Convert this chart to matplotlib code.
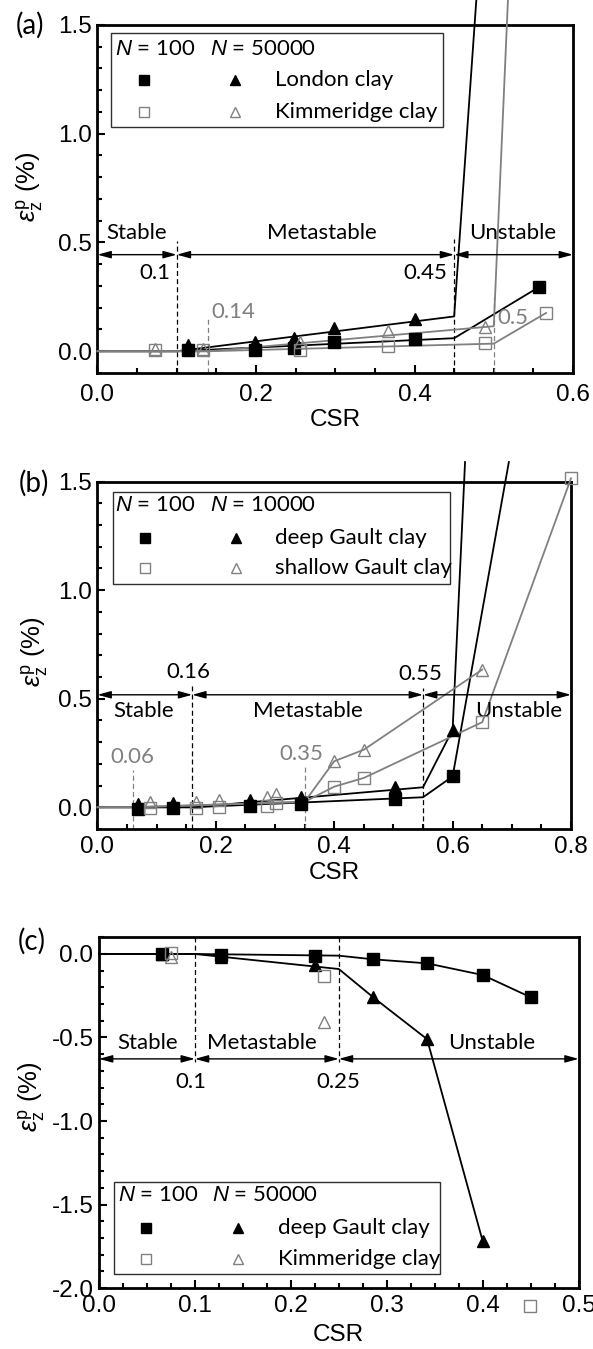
import numpy as np
import matplotlib.pyplot as plt
from matplotlib.ticker import MultipleLocator
from matplotlib.patches import Rectangle

plt.rcParams['mathtext.fontset'] = 'custom'
plt.rcParams['mathtext.it'] = 'Liberation Sans:italic'
plt.rcParams['mathtext.rm'] = 'Liberation Sans'
plt.rcParams['axes.unicode_minus'] = False

NUM = 'Liberation Sans'
TXT = 'Lato'
GRAY = '#808080'
FS = 17.5     # tick labels / CSR
TS = 16       # annotation and key text

# ---------------- (a) London / Kimmeridge clay ----------------
a_bsq_x = [0.114, 0.199, 0.248, 0.298, 0.40, 0.557]
a_bsq_y = [0.005, 0.005, 0.015, 0.043, 0.054, 0.295]
a_btr_x = [0.114, 0.199, 0.248, 0.298, 0.40]
a_btr_y = [0.028, 0.041, 0.061, 0.107, 0.148]
a_gsq_x = [0.073, 0.133, 0.256, 0.366, 0.489, 0.566]
a_gsq_y = [0.005, 0.005, 0.008, 0.023, 0.038, 0.176]
a_gtr_x = [0.073, 0.133, 0.256, 0.366, 0.489]
a_gtr_y = [0.011, 0.011, 0.041, 0.092, 0.110]
# model lines
a_btr_lx = [0, 0.10, 0.45, 0.4806]
a_btr_ly = [0, 0, 0.16, 1.75]
a_bsq_lx = [0, 0.10, 0.45, 0.557]
a_bsq_ly = [0, 0, 0.06, 0.295]
a_gtr_lx = [0, 0.14, 0.50, 0.5195]
a_gtr_ly = [0, 0, 0.115, 1.75]
a_gsq_lx = [0, 0.14, 0.50, 0.566]
a_gsq_ly = [0, 0, 0.035, 0.176]

# ---------------- (b) deep / shallow Gault clay ----------------
b_bsq_x = [0.068, 0.128, 0.257, 0.343, 0.503, 0.60]
b_bsq_y = [-0.008, -0.003, 0.005, 0.015, 0.038, 0.142]
b_btr_x = [0.068, 0.128, 0.257, 0.343, 0.503, 0.60]
b_btr_y = [0.015, 0.018, 0.034, 0.049, 0.092, 0.357]
b_gsq_x = [0.0895, 0.166, 0.206, 0.287, 0.302, 0.40, 0.45, 0.65, 0.80]
b_gsq_y = [-0.003, -0.003, 0.003, 0.008, 0.018, 0.095, 0.135, 0.392, 1.515]
b_gtr_x = [0.0895, 0.166, 0.206, 0.287, 0.302, 0.40, 0.45, 0.65]
b_gtr_y = [0.023, 0.023, 0.034, 0.046, 0.062, 0.212, 0.265, 0.634]
b_btr_lx = [0, 0.16, 0.55, 0.60, 0.621]
b_btr_ly = [0, 0, 0.092, 0.357, 1.59]
b_bsq_lx = [0, 0.16, 0.55, 0.60, 0.695]
b_bsq_ly = [0, 0, 0.046, 0.142, 1.59]
b_gtr_lx = [0, 0.06, 0.35, 0.40, 0.45, 0.65]
b_gtr_ly = [0, 0, 0.025, 0.212, 0.265, 0.634]
b_gsq_lx = [0, 0.06, 0.35, 0.40, 0.45, 0.65, 0.80]
b_gsq_ly = [0, 0, 0.025, 0.095, 0.135, 0.392, 1.515]

# ---------------- (c) deep Gault / Kimmeridge (extension) ----------------
c_bsq_x = [0.066, 0.127, 0.225, 0.286, 0.342, 0.40, 0.45]
c_bsq_y = [0.0, -0.006, -0.012, -0.032, -0.056, -0.126, -0.259]
c_btr_x = [0.066, 0.127, 0.225, 0.286, 0.342, 0.40]
c_btr_y = [0.0, -0.016, -0.066, -0.26, -0.51, -1.72]
c_gsq_x = [0.075, 0.235, 0.449]
c_gsq_y = [0.004, -0.132, -2.11]
c_gtr_x = [0.075, 0.235]
c_gtr_y = [-0.02, -0.41]
c_bsq_lx = [0, 0.10, 0.25, 0.286, 0.342, 0.40, 0.45]
c_bsq_ly = [0, 0, -0.01, -0.032, -0.056, -0.126, -0.259]
c_btr_lx = [0, 0.10, 0.25, 0.286, 0.342, 0.40]
c_btr_ly = [0, 0, -0.09, -0.26, -0.51, -1.72]


def style_axes(ax, xlim, ylim, xmaj, xmin, ymaj, ymin, xpad):
    ax.set_xlim(*xlim)
    ax.set_ylim(*ylim)
    ax.xaxis.set_major_locator(MultipleLocator(xmaj))
    ax.xaxis.set_minor_locator(MultipleLocator(xmin))
    ax.yaxis.set_major_locator(MultipleLocator(ymaj))
    ax.yaxis.set_minor_locator(MultipleLocator(ymin))
    ax.tick_params(which='both', direction='in', top=False, right=False, width=1.5)
    ax.tick_params(which='major', length=6)
    ax.tick_params(which='minor', length=3.5)
    ax.tick_params(axis='x', pad=xpad)
    ax.tick_params(axis='y', pad=4)
    for lab in ax.get_xticklabels() + ax.get_yticklabels():
        lab.set_fontfamily(NUM)
        lab.set_fontsize(FS)
    for s in ax.spines.values():
        s.set_linewidth(2)


def vdash(ax, x, y0, y1, color):
    ax.plot([x, x], [y0, y1], color=color, lw=0.9, dashes=(4, 2.5), clip_on=False)


def span_arrow(ax, x0, x1, y):
    ax.annotate('', xy=(x1, y), xytext=(x0, y),
                arrowprops=dict(arrowstyle='<|-|>,head_length=0.8,head_width=0.22',
                                color='black', lw=1.0, shrinkA=0, shrinkB=0),
                annotation_clip=False)


def draw_key(ax, box, head_y, row_y, heads, names, xs):
    x0, y0, x1, y1 = box
    ax.add_patch(Rectangle((x0, y0), x1 - x0, y1 - y0, transform=ax.transAxes,
                           fill=False, ec='#303030', lw=1.0, zorder=6))
    ax.text(xs[0], head_y, heads[0], transform=ax.transAxes, family=TXT, fontsize=TS,
            va='center', zorder=7)
    ax.text(xs[1], head_y, heads[1], transform=ax.transAxes, family=TXT, fontsize=TS,
            va='center', zorder=7)
    ax.plot(xs[2], row_y[0], 's', color='black', ms=6.5, transform=ax.transAxes, zorder=7)
    ax.plot(xs[3], row_y[0], '^', color='black', ms=7.5, transform=ax.transAxes, zorder=7)
    ax.plot(xs[2], row_y[1], 's', mfc='none', mec=GRAY, mew=1, ms=6.5, transform=ax.transAxes, zorder=7)
    ax.plot(xs[3], row_y[1], '^', mfc='none', mec=GRAY, mew=1, ms=7.5, transform=ax.transAxes, zorder=7)
    for y, name in zip(row_y, names):
        ax.text(xs[4], y, name, transform=ax.transAxes, family=TXT, fontsize=TS,
                va='center', zorder=7)


def plot_set(ax, lines, pts):
    for (lx, ly, col) in lines:
        ax.plot(lx, ly, color=col, lw=1.3, clip_on=False, zorder=3)
    for (px, py, mk, filled) in pts:
        if filled:
            ax.plot(px, py, mk, color='black', ms=8, ls='none', clip_on=False, zorder=4)
        else:
            ax.plot(px, py, mk, mfc='none', mec=GRAY, mew=1, ms=8, ls='none',
                    clip_on=False, zorder=5)


def label(ax, x, y, s, color='black'):
    ax.text(x, y, s, family=TXT, fontsize=TS, ha='center', va='center', color=color)


fig = plt.figure(figsize=(5.93, 13.49), dpi=100)

ylab = r'$\varepsilon_{\rm z}^{\rm p}$ (%)'

# ---------- panel (a) ----------
ax = fig.add_axes([0.1644, 0.7235, 0.8019, 0.2580])
style_axes(ax, (0, 0.6), (-0.1, 1.5), 0.2, 0.05, 0.5, 0.1, 8)
plot_set(ax,
         [(a_btr_lx, a_btr_ly, 'black'), (a_bsq_lx, a_bsq_ly, 'black'),
          (a_gtr_lx, a_gtr_ly, GRAY), (a_gsq_lx, a_gsq_ly, GRAY)],
         [(a_bsq_x, a_bsq_y, 's', True), (a_btr_x, a_btr_y, '^', True),
          (a_gsq_x, a_gsq_y, 's', False), (a_gtr_x, a_gtr_y, '^', False)])
vdash(ax, 0.10, -0.1, 0.505, 'black')
vdash(ax, 0.45, -0.1, 0.516, 'black')
vdash(ax, 0.14, -0.1, 0.16, GRAY)
vdash(ax, 0.50, -0.1, 0.25, GRAY)
for (x0, x1) in [(0, 0.1), (0.1, 0.45), (0.45, 0.6)]:
    span_arrow(ax, x0, x1, 0.444)
for x, t in [(0.0496, 'Stable'), (0.2826, 'Metastable'), (0.5236, 'Unstable')]:
    label(ax, x, 0.545, t)
label(ax, 0.0726, 0.36, '0.1')
label(ax, 0.414, 0.36, '0.45')
label(ax, 0.172, 0.18, '0.14', GRAY)
label(ax, 0.524, 0.155, '0.5', GRAY)
draw_key(ax, (0.0294, 0.708, 0.727, 0.976), 0.930, (0.842, 0.751),
         (r'$N$ = 100', r'$N$ = 50000'), ('London clay', 'Kimmeridge clay'),
         (0.037, 0.236, 0.097, 0.29, 0.374))
ax.set_xlabel('CSR', family=NUM, fontsize=FS, labelpad=2)
ax.set_ylabel(ylab, family=NUM, fontsize=18.5)
ax.yaxis.set_label_coords(-0.11, 0.535)
fig.text(0.051, 0.9815, '(a)', family=TXT, fontsize=20, ha='center', va='center')

# ---------- panel (b) ----------
ax = fig.add_axes([0.1644, 0.3855, 0.7985, 0.2575])
style_axes(ax, (0, 0.8), (-0.1, 1.5), 0.2, 0.05, 0.5, 0.1, 5)
plot_set(ax,
         [(b_btr_lx, b_btr_ly, 'black'), (b_bsq_lx, b_bsq_ly, 'black'),
          (b_gtr_lx, b_gtr_ly, GRAY), (b_gsq_lx, b_gsq_ly, GRAY)],
         [(b_bsq_x, b_bsq_y, 's', True), (b_btr_x, b_btr_y, '^', True),
          (b_gsq_x, b_gsq_y, 's', False), (b_gtr_x, b_gtr_y, '^', False)])
vdash(ax, 0.16, -0.1, 0.56, 'black')
vdash(ax, 0.55, -0.1, 0.55, 'black')
vdash(ax, 0.06, -0.1, 0.17, GRAY)
vdash(ax, 0.35, -0.1, 0.19, GRAY)
for (x0, x1) in [(0, 0.16), (0.16, 0.55), (0.55, 0.8)]:
    span_arrow(ax, x0, x1, 0.518)
for x, t in [(0.078, 'Stable'), (0.356, 'Metastable'), (0.711, 'Unstable')]:
    label(ax, x, 0.445, t)
label(ax, 0.153, 0.625, '0.16')
label(ax, 0.546, 0.612, '0.55')
label(ax, 0.059, 0.23, '0.06', GRAY)
label(ax, 0.344, 0.245, '0.35', GRAY)
draw_key(ax, (0.0335, 0.706, 0.744, 0.971), 0.933, (0.839, 0.751),
         (r'$N$ = 100', r'$N$ = 10000'), ('deep Gault clay', 'shallow Gault clay'),
         (0.0375, 0.237, 0.0998, 0.2915, 0.375))
ax.set_xlabel('CSR', family=NUM, fontsize=FS, labelpad=3)
ax.set_ylabel(ylab, family=NUM, fontsize=18.5)
ax.yaxis.set_label_coords(-0.10, 0.51)
fig.text(0.057, 0.642, '(b)', family=TXT, fontsize=20, ha='center', va='center')

# ---------- panel (c) ----------
ax = fig.add_axes([0.1669, 0.0452, 0.8089, 0.2600])
style_axes(ax, (0, 0.5), (-2.0, 0.1), 0.1, 0.025, 0.5, 0.1, 5)
plot_set(ax,
         [(c_bsq_lx, c_bsq_ly, 'black'), (c_btr_lx, c_btr_ly, 'black')],
         [(c_bsq_x, c_bsq_y, 's', True), (c_btr_x, c_btr_y, '^', True),
          (c_gsq_x, c_gsq_y, 's', False), (c_gtr_x, c_gtr_y, '^', False)])
vdash(ax, 0.10, 0.1, -0.644, 'black')
vdash(ax, 0.25, 0.1, -0.644, 'black')
for (x0, x1) in [(0, 0.1), (0.1, 0.25), (0.25, 0.5)]:
    span_arrow(ax, x0, x1, -0.628)
for x, t in [(0.051, 'Stable'), (0.17, 'Metastable'), (0.409, 'Unstable')]:
    label(ax, x, -0.53, t)
label(ax, 0.0958, -0.764, '0.1')
label(ax, 0.249, -0.764, '0.25')
draw_key(ax, (0.0315, 0.04, 0.71, 0.301), 0.266, (0.171, 0.083),
         (r'$N$ = 100', r'$N$ = 50000'), ('deep Gault clay', 'Kimmeridge clay'),
         (0.039, 0.235, 0.0986, 0.289, 0.373))
ax.set_xlabel('CSR', family=NUM, fontsize=FS, labelpad=5)
ax.set_ylabel(ylab, family=NUM, fontsize=18.5)
ax.yaxis.set_label_coords(-0.108, 0.546)
fig.text(0.054, 0.302, '(c)', family=TXT, fontsize=20, ha='center', va='center')

fig.savefig('out.png', dpi=100)
